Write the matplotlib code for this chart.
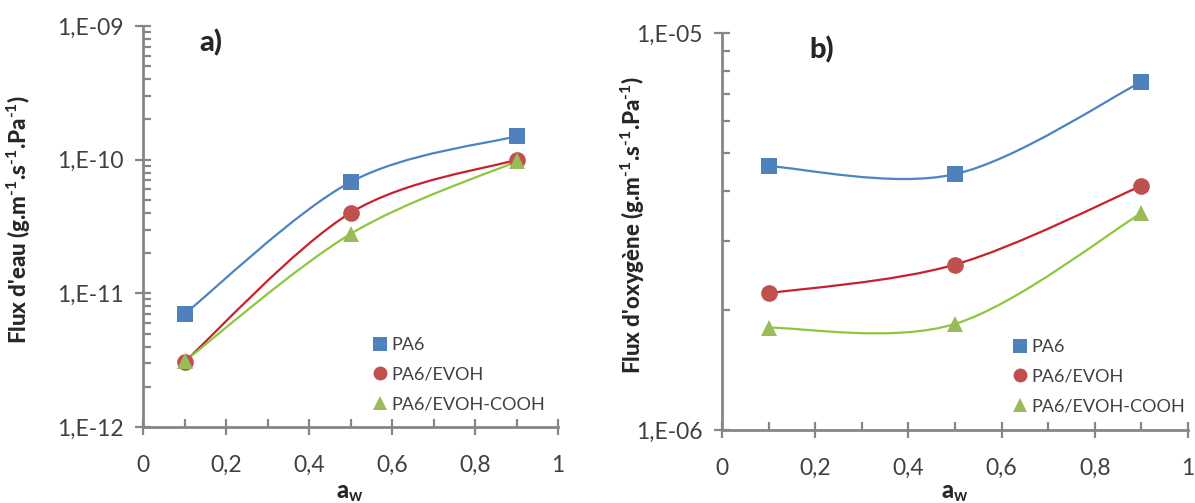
import numpy as np
import matplotlib
matplotlib.use("Agg")
import matplotlib.pyplot as plt
from matplotlib.path import Path
from matplotlib.patches import PathPatch
from matplotlib.ticker import FixedLocator, FuncFormatter, LogLocator, MultipleLocator
from matplotlib.lines import Line2D

plt.rcParams['font.family'] = ['Lato', 'DejaVu Sans']
plt.rcParams['mathtext.fontset'] = 'custom'
plt.rcParams['mathtext.rm'] = 'Lato:bold'
plt.rcParams['mathtext.bf'] = 'Lato:bold'
plt.rcParams['mathtext.default'] = 'bf'

aw = [0.1, 0.5, 0.9]
series_names = ["PA6", "PA6/EVOH", "PA6/EVOH-COOH"]
water_pa6 = [7.0e-12, 6.8e-11, 1.5e-10]
water_evoh = [3.07e-12, 4.0e-11, 1.0e-10]
water_cooh = [3.1e-12, 2.78e-11, 9.7e-11]
oxy_pa6 = [4.62e-6, 4.41e-6, 7.53e-6]
oxy_evoh = [2.21e-6, 2.61e-6, 4.12e-6]
oxy_cooh = [1.81e-6, 1.85e-6, 3.52e-6]
xticks = [0, 0.2, 0.4, 0.6, 0.8, 1]
xtick_labels = ["0", "0,2", "0,4", "0,6", "0,8", "1"]

marker_colors = ["#4F81BD", "#C0504D", "#9BBB59"]
line_colors = ["#4A84C6", "#C8202C", "#8DC63F"]
markers = ["s", "o", "^"]
msizes = [12, 12, 11]
axis_gray = "#868686"
text_col = "#404040"


def smooth_path(xs, ys):
    """Excel-style smoothed line: cubic Bezier in (x, log10 y) space."""
    P = np.column_stack([xs, np.log10(ys)])
    n = len(P)
    verts = [P[0]]
    codes = [Path.MOVETO]
    for i in range(n - 1):
        pm = P[max(i - 1, 0)]
        p0 = P[i]
        p1 = P[i + 1]
        p2 = P[min(i + 2, n - 1)]
        c1 = p0 + (p1 - pm) / 6.0
        c2 = p1 - (p2 - p0) / 6.0
        verts += [c1, c2, p1]
        codes += [Path.CURVE4] * 3
    v = np.array(verts)
    v[:, 1] = 10 ** v[:, 1]
    return Path(v, codes)


def sci_fmt(v, pos):
    e = int(round(np.log10(v)))
    return "1,E-%02d" % (-e)


def setup(ax, ylo, yhi):
    ax.set_yscale("log")
    ax.set_xlim(0, 1)
    ax.set_ylim(ylo, yhi)
    for s in ["top", "right"]:
        ax.spines[s].set_visible(False)
    for s in ["left", "bottom"]:
        ax.spines[s].set_color(axis_gray)
        ax.spines[s].set_linewidth(2)
    ax.xaxis.set_major_locator(FixedLocator(xticks))
    ax.set_xticklabels(xtick_labels)
    ax.xaxis.set_minor_locator(MultipleLocator(0.1))
    ax.yaxis.set_major_locator(LogLocator(base=10, numticks=10))
    ax.yaxis.set_minor_locator(LogLocator(base=10, subs=np.arange(2, 10), numticks=10))
    ax.yaxis.set_major_formatter(FuncFormatter(sci_fmt))
    ax.yaxis.set_minor_formatter(FuncFormatter(lambda v, p: ""))
    ax.tick_params(which="major", direction="inout", length=12, width=1.6,
                   color=axis_gray, labelsize=16.5, labelcolor=text_col, pad=8)
    ax.tick_params(which="minor", direction="in", length=6, width=1.6, color=axis_gray)
    ax.tick_params(axis="x", which="major", pad=14)
    ax.patch.set_alpha(0)


def draw(ax, data):
    for k, ys in enumerate(data):
        pp = PathPatch(smooth_path(aw, ys), facecolor="none", edgecolor=line_colors[k],
                       linewidth=1.6, zorder=2)
        ax.add_patch(pp)
        ax.plot(aw, ys, linestyle="none", marker=markers[k], markersize=msizes[k],
                color=marker_colors[k], markeredgewidth=0, zorder=3)


fig = plt.figure(figsize=(11.95, 5.03), dpi=100)
axL = fig.add_axes([143 / 1195, 1 - 427 / 503, 415 / 1195, 401 / 503])
axR = fig.add_axes([722 / 1195, 1 - 430 / 503, 466 / 1195, 397 / 503])

setup(axL, 1e-12, 1e-9)
setup(axR, 1e-6, 1e-5)
draw(axL, [water_pa6, water_evoh, water_cooh])
draw(axR, [oxy_pa6, oxy_evoh, oxy_cooh])

sup = "$^{\\text{-1}}$"
fig.text(19 / 1195, 1 - 220 / 503, "Flux d'eau (g.m" + sup + ".s" + sup + ".Pa" + sup + ")",
         rotation=90, ha="center", va="center", fontsize=16, fontweight="black", color="#262626")
fig.text(633 / 1195, 1 - 225 / 503, "Flux d'oxygène (g.m" + sup + ".s" + sup + ".Pa" + sup + ")",
         rotation=90, ha="center", va="center", fontsize=16, fontweight="black", color="#262626")
fig.text(350 / 1195, 1 - 492 / 503, "a$_{\\text{w}}$", ha="center", va="center",
         fontsize=17, fontweight="black", color="#262626")
fig.text(955 / 1195, 1 - 492 / 503, "a$_{\\text{w}}$", ha="center", va="center",
         fontsize=17, fontweight="black", color="#262626")
fig.text(211 / 1195, 1 - 43 / 503, "a)", ha="center", va="center",
         fontsize=21, fontweight="black", color="#262626")
fig.text(822 / 1195, 1 - 50 / 503, "b)", ha="center", va="center",
         fontsize=21, fontweight="black", color="#262626")

handles = [Line2D([], [], linestyle="none", marker=markers[k], markersize=10,
                  color=marker_colors[k], markeredgewidth=0) for k in range(3)]
for ax, anchor in [(axL, (374 / 1195, 1 - 337 / 503)), (axR, (1014 / 1195, 1 - 339 / 503))]:
    leg = fig.legend(handles, series_names, loc="upper left", bbox_to_anchor=anchor,
                     frameon=False, fontsize=13, handlelength=0.7, handletextpad=0.25,
                     labelspacing=0.75, borderpad=0, borderaxespad=0, labelcolor=text_col)

fig.savefig("out.png", dpi=100)
